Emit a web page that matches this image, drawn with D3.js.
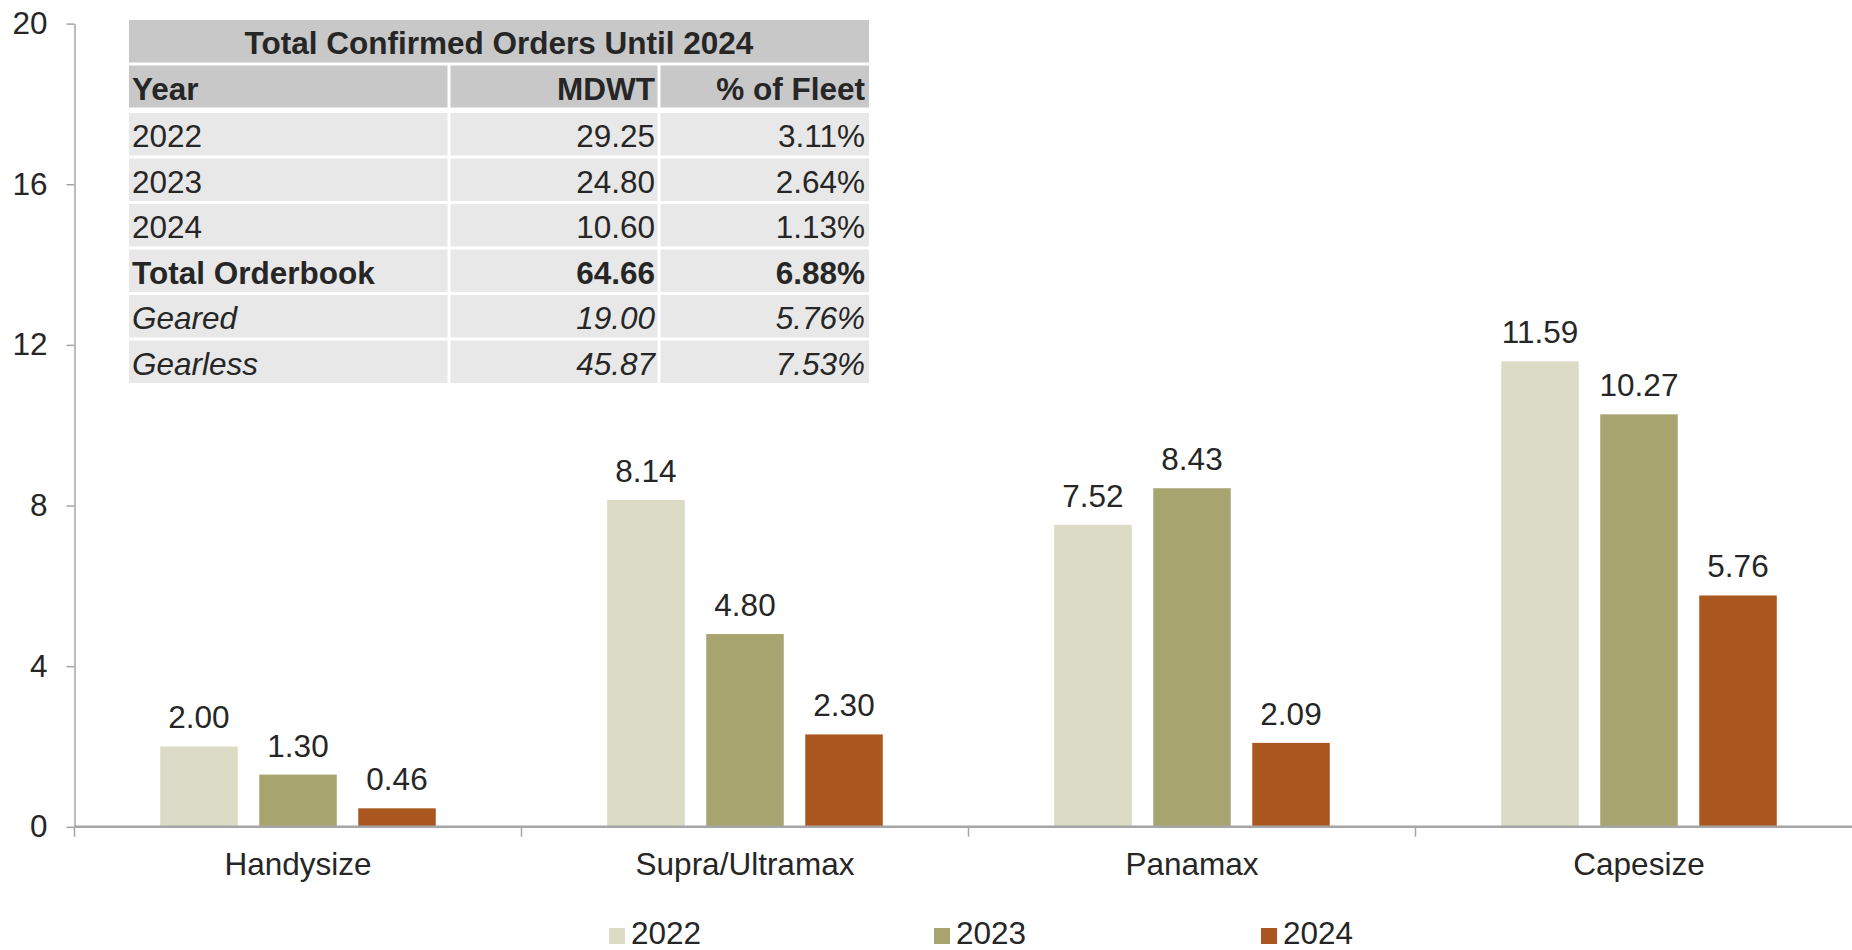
<!DOCTYPE html>
<html>
<head>
<meta charset="utf-8">
<script src="https://cdn.jsdelivr.net/npm/d3@7/dist/d3.min.js"></script>
<style>
  html, body { margin: 0; padding: 0; background: #fff; }
  svg { display: block; font-family: "Liberation Sans", Arial, sans-serif; }
</style>
</head>
<body>
<svg id="chart" width="1852" height="950"></svg>
<script>
// Bulk carrier orderbook by segment (million DWT)
const categories = ["Handysize", "Supra/Ultramax", "Panamax", "Capesize"];
const seriesNames = ["2022", "2023", "2024"];
const values2022 = [2.00, 8.14, 7.52, 11.59];
const values2023 = [1.30, 4.80, 8.43, 10.27];
const values2024 = [0.46, 2.30, 2.09, 5.76];
const seriesColors = ["#DCDBC5", "#A8A46F", "#A9561F"];
const yTicks = [0, 4, 8, 12, 16, 20];

// Summary table
const tableTitle = "Total Confirmed Orders Until 2024";
const tableHeader = ["Year", "MDWT", "% of Fleet"];
const tableLabels = ["2022", "2023", "2024", "Total Orderbook", "Geared", "Gearless"];
const tableMdwt = ["29.25", "24.80", "10.60", "64.66", "19.00", "45.87"];
const tableFleet = ["3.11%", "2.64%", "1.13%", "6.88%", "5.76%", "7.53%"];
const tableStyles = ["normal", "normal", "normal", "bold", "italic", "italic"];

const seriesValues = [values2022, values2023, values2024];
const textColor = "#262626";
const axisColor = "#A6A6A6";
const fontSize = 31.5;

const svg = d3.select("#chart");

const x0 = d3.scaleBand().domain(categories).range([74.5, 1862.5]).padding(0);
const bw = x0.bandwidth();
const x1 = d3.scaleBand().domain(seriesNames)
  .range([bw * 0.1918, bw * 0.8082]).paddingInner(0.217).paddingOuter(0);
const y = d3.scaleLinear().domain([0, 20]).range([826.8, 23.6]);

// Bars
const groups = svg.append("g").selectAll("g")
  .data(categories)
  .join("g")
  .attr("transform", c => `translate(${x0(c)},0)`);

groups.each(function(c, ci) {
  const g = d3.select(this);
  const items = seriesNames.map((s, si) => ({ s, si, v: seriesValues[si][ci] }));
  g.selectAll("rect").data(items).join("rect")
    .attr("x", d => x1(d.s))
    .attr("width", x1.bandwidth())
    .attr("y", d => y(d.v))
    .attr("height", d => y(0) - y(d.v))
    .attr("fill", d => seriesColors[d.si]);
  g.selectAll("text").data(items).join("text")
    .attr("x", d => x1(d.s) + x1.bandwidth() / 2)
    .attr("y", d => y(d.v) - 18)
    .attr("text-anchor", "middle")
    .attr("font-size", fontSize)
    .attr("fill", textColor)
    .text(d => d.v.toFixed(2));
});

// Y axis
const yAxis = svg.append("g")
  .attr("transform", `translate(${x0.range()[0]},0)`)
  .call(d3.axisLeft(y).tickValues(yTicks).tickSize(8).tickSizeOuter(0).tickPadding(19));
yAxis.select(".domain").attr("stroke", axisColor).attr("stroke-width", 1.5);
yAxis.selectAll(".tick line").attr("stroke", axisColor).attr("stroke-width", 1.5);
yAxis.selectAll(".tick text").attr("font-size", fontSize).attr("fill", textColor)
  .attr("font-family", "Liberation Sans, Arial, sans-serif");

// X axis: baseline, category boundary ticks and labels
const xAxis = svg.append("g");
xAxis.append("line")
  .attr("x1", x0.range()[0]).attr("x2", 1852)
  .attr("y1", y(0)).attr("y2", y(0))
  .attr("stroke", axisColor).attr("stroke-width", 2.5);
xAxis.selectAll("line.tick").data(categories).join("line")
  .attr("class", "tick")
  .attr("x1", c => x0(c)).attr("x2", c => x0(c))
  .attr("y1", y(0)).attr("y2", y(0) + 10)
  .attr("stroke", axisColor).attr("stroke-width", 1.5);
xAxis.selectAll("text").data(categories).join("text")
  .attr("x", c => x0(c) + bw / 2)
  .attr("y", 875)
  .attr("text-anchor", "middle")
  .attr("font-size", fontSize)
  .attr("fill", textColor)
  .text(c => c);

// Legend
const legendX = [609, 934, 1261];
const legend = svg.append("g").selectAll("g").data(seriesNames).join("g")
  .attr("transform", (d, i) => `translate(${legendX[i]},928)`);
legend.append("rect").attr("width", 16).attr("height", 16)
  .attr("fill", (d, i) => seriesColors[i]);
legend.append("text").attr("x", 22).attr("y", 16)
  .attr("font-size", fontSize).attr("fill", textColor).text(d => d);

// Summary table
const tLeft = 129, tRight = 869;
const colEdges = [tLeft, 449, 659, tRight];
const table = svg.append("g");

table.append("rect").attr("x", tLeft).attr("y", 20)
  .attr("width", tRight - tLeft).attr("height", 42.5).attr("fill", "#C8C8C8");
table.append("text").attr("x", (tLeft + tRight) / 2).attr("y", 54)
  .attr("text-anchor", "middle").attr("font-size", fontSize).attr("font-weight", "bold")
  .attr("fill", textColor).text(tableTitle);

function drawRow(y0, h, cells, fill, weight, style) {
  const row = table.append("g");
  for (let c = 0; c < 3; c++) {
    const xa = colEdges[c] + (c === 0 ? 0 : 1.5);
    const xb = colEdges[c + 1] - (c === 2 ? 0 : 1.5);
    row.append("rect").attr("x", xa).attr("y", y0)
      .attr("width", xb - xa).attr("height", h).attr("fill", fill);
    row.append("text")
      .attr("x", c === 0 ? colEdges[0] + 3 : colEdges[c + 1] - 4)
      .attr("y", y0 + 34)
      .attr("text-anchor", c === 0 ? "start" : "end")
      .attr("font-size", fontSize)
      .attr("font-weight", weight)
      .attr("font-style", style)
      .attr("fill", textColor)
      .text(cells[c]);
  }
}

drawRow(65.5, 42, tableHeader, "#C8C8C8", "bold", "normal");
tableLabels.forEach((lab, i) => {
  const y0 = 113 + i * 45.5;
  drawRow(y0, 42.5, [lab, tableMdwt[i], tableFleet[i]], "#E8E8E8",
    tableStyles[i] === "bold" ? "bold" : "normal",
    tableStyles[i] === "italic" ? "italic" : "normal");
});
</script>
</body>
</html>
